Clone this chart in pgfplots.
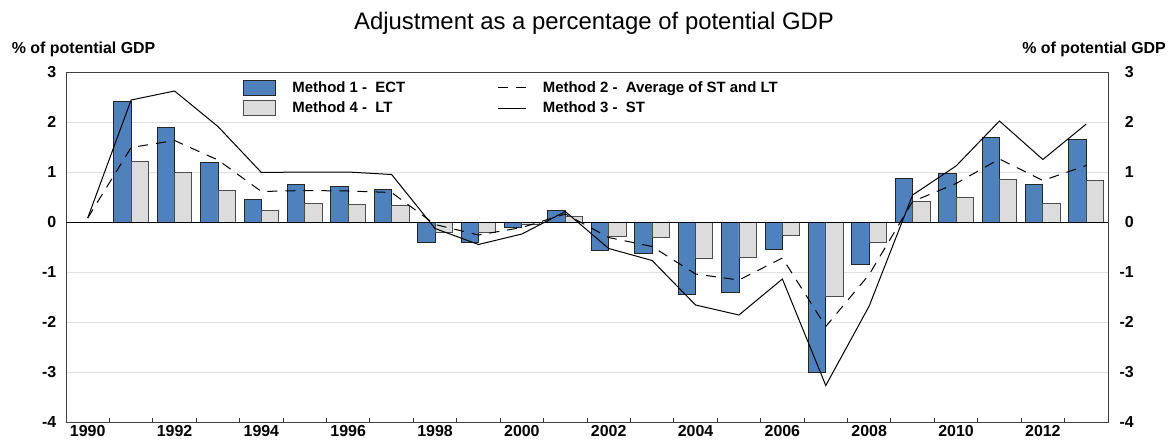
\documentclass[border=0pt]{standalone}
\usepackage{fontspec}
\setmainfont{Liberation Sans}
\usepackage{pgfplots}
\pgfplotsset{compat=1.18}
\definecolor{ecblue}{HTML}{4F81BD}
\definecolor{ltgray}{HTML}{DCDCDC}
\begin{document}
\begin{tikzpicture}
\path[use as bounding box] (0,0) rectangle (1173bp,442bp);
\begin{axis}[
  at={(66bp,20bp)}, anchor=south west,
  width=1042bp, height=350bp, scale only axis,
  xmin=1989.5, xmax=2013.5, ymin=-4, ymax=3,
  axis line style={black!75, line width=1bp},
  ytick={-4,-3,...,3},
  yticklabels={-4,-3,-2,-1,0,1,2,3},
  xtick={1990,1992,...,2012},
  xticklabels={1990,1992,1994,1996,1998,2000,2002,2004,2006,2008,2010,2012},
  minor xtick={1990.5,1991.5,...,2012.5},
  major tick length=0pt, minor tick length=4bp,
  tick align=inside, xtick pos=left, ytick pos=left,
  tick style={black!80, line width=0.8bp},
  ymajorgrids, major grid style={black!12, line width=1bp},
  ticklabel style={font=\fontsize{16}{16}\selectfont\bfseries, inner sep=0pt},
  yticklabel style={anchor=east, xshift=-9.5bp},
  xticklabel style={anchor=north, yshift=-3.5bp},
  legend columns=2,
  legend cell align=left,
  legend style={draw=none, fill=none, inner sep=0pt, outer sep=0pt,
    at={(axis description cs:0.1699,0.977)}, anchor=north west,
    font=\fontsize{15}{15}\selectfont\bfseries,
    nodes={inner sep=0pt},
    row sep=5bp,
    /tikz/every odd column/.append style={column sep=16.5bp},
    /tikz/every even column/.append style={column sep=92bp}},
]
% Method 1 - ECT
\addplot[ybar, bar width=0.4, bar shift=-0.2, fill=ecblue, draw=black!85, line width=0.9bp, forget plot] coordinates {
(1991,2.41) (1992,1.89) (1993,1.19) (1994,0.45) (1995,0.75) (1996,0.71) (1997,0.66)
(1998,-0.41) (1999,-0.41) (2000,-0.10) (2001,0.23) (2002,-0.57) (2003,-0.63) (2004,-1.45)
(2005,-1.40) (2006,-0.55) (2007,-3.00) (2008,-0.84) (2009,0.87) (2010,0.97) (2011,1.69)
(2012,0.75) (2013,1.65)};
% Method 4 - LT
\addplot[ybar, bar width=0.4, bar shift=0.2, fill=ltgray, draw=black!70, line width=0.9bp, forget plot] coordinates {
(1991,1.21) (1992,0.99) (1993,0.63) (1994,0.23) (1995,0.38) (1996,0.36) (1997,0.33)
(1998,-0.20) (1999,-0.20) (2000,-0.05) (2001,0.11) (2002,-0.29) (2003,-0.31) (2004,-0.73)
(2005,-0.70) (2006,-0.27) (2007,-1.49) (2008,-0.41) (2009,0.42) (2010,0.49) (2011,0.85)
(2012,0.37) (2013,0.83)};
\draw[black, line width=1bp] (axis cs:1989.5,0) -- (axis cs:2013.5,0);
% Method 2 - Average of ST and LT
\addplot[black, line width=1bp, dash pattern=on 10bp off 8bp, forget plot] coordinates {
(1990,0.08) (1991,1.49) (1992,1.63) (1993,1.24) (1994,0.61) (1995,0.63) (1996,0.62) (1997,0.59)
(1998,-0.05) (1999,-0.26) (2000,-0.11) (2001,0.16) (2002,-0.31) (2003,-0.49) (2004,-1.04)
(2005,-1.16) (2006,-0.72) (2007,-2.09) (2008,-1.05) (2009,0.41) (2010,0.77) (2011,1.26)
(2012,0.83) (2013,1.13)};
% Method 3 - ST
\addplot[black, line width=1bp, forget plot] coordinates {
(1990,0.08) (1991,2.44) (1992,2.62) (1993,1.91) (1994,0.99) (1995,1.00) (1996,1.00) (1997,0.95)
(1998,-0.13) (1999,-0.45) (2000,-0.24) (2001,0.21) (2002,-0.53) (2003,-0.77) (2004,-1.66)
(2005,-1.86) (2006,-1.14) (2007,-3.27) (2008,-1.68) (2009,0.54) (2010,1.12) (2011,2.02)
(2012,1.25) (2013,1.96)};
\addlegendimage{legend image code/.code={\draw[fill=ecblue, draw=black!85, line width=0.9bp] (0bp,-7.25bp) rectangle (32bp,7.25bp);}}
\addlegendimage{legend image code/.code={\draw[black, line width=1bp, dash pattern=on 10bp off 8bp] (0bp,0bp) -- (28bp,0bp);}}
\addlegendimage{legend image code/.code={\draw[fill=ltgray, draw=black!70, line width=0.9bp] (0bp,-7.25bp) rectangle (32bp,7.25bp);}}
\addlegendimage{legend image code/.code={\draw[black, line width=1bp] (0bp,0bp) -- (28bp,0bp);}}
\legend{Method 1 -\ \ ECT, Method 2 -\ \ Average of ST and LT, Method 4 -\ \ LT, Method 3 -\ \ ST}
\end{axis}
\begin{axis}[
  at={(66bp,20bp)}, anchor=south west,
  width=1042bp, height=350bp, scale only axis,
  xmin=1989.5, xmax=2013.5, ymin=-4, ymax=3,
  axis x line=none, axis y line*=right, axis line style={draw=none},
  ytick={-4,-3,...,3},
  yticklabels={-4,-3,-2,-1,0,1,2,3},
  major tick length=0pt,
  ticklabel style={font=\fontsize{16}{16}\selectfont\bfseries, inner sep=0pt},
  yticklabel style={anchor=east, xshift=26bp},
]
\end{axis}
\node[anchor=base west, font=\fontsize{16}{16}\selectfont\bfseries, inner sep=0pt] at (11.7bp,388.7bp) {\% of potential GDP};
\node[anchor=base east, font=\fontsize{16}{16}\selectfont\bfseries, inner sep=0pt] at (1166bp,388.7bp) {\% of potential GDP};
\node[anchor=base, font=\fontsize{24}{24}\selectfont, inner sep=0pt] at (594bp,412bp) {Adjustment as a percentage of potential GDP};
\end{tikzpicture}
\end{document}
